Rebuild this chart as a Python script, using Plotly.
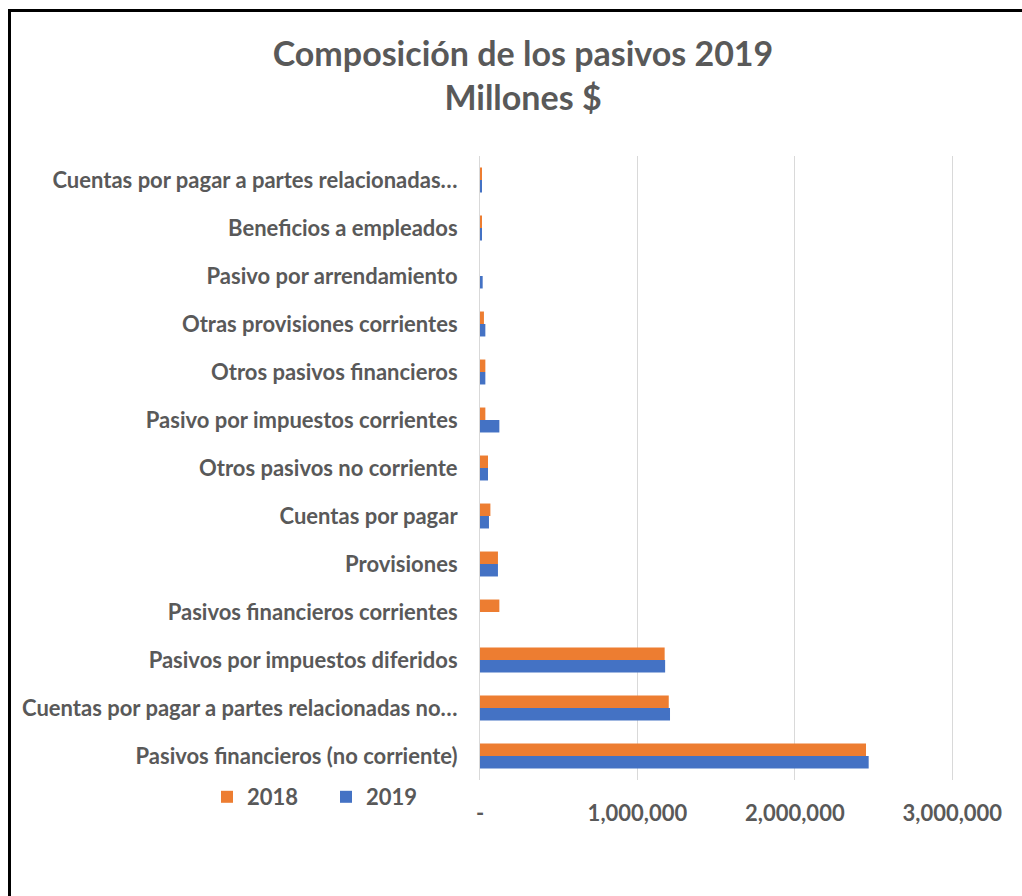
import plotly.graph_objects as go

# Liability items, listed top to bottom as they appear on the chart
categorias = [
    "Cuentas por pagar a partes relacionadas…",
    "Beneficios a empleados",
    "Pasivo por arrendamiento",
    "Otras provisiones corrientes",
    "Otros pasivos financieros",
    "Pasivo por impuestos corrientes",
    "Otros pasivos no corriente",
    "Cuentas por pagar",
    "Provisiones",
    "Pasivos financieros corrientes",
    "Pasivos por impuestos diferidos",
    "Cuentas por pagar a partes relacionadas no…",
    "Pasivos financieros (no corriente)",
]

# Values in millions of $
valores_2018 = [8000, 8000, 0, 25000, 34000, 34000, 51000, 66000, 114000, 123000,
                1173000, 1199000, 2452000]
valores_2019 = [8000, 8000, 17000, 34000, 34000, 123000, 51000, 57000, 114000, 0,
                1176000, 1207000, 2469000]

tick_vals = [0, 1000000, 2000000, 3000000]
tick_text = ["-", "1,000,000", "2,000,000", "3,000,000"]

GRIS = "#595959"
FUENTE = "Lato"
negrita = dict(family=FUENTE, size=22, color=GRIS, weight="bold")

fig = go.Figure()
fig.add_trace(go.Bar(name="2018", y=categorias, x=valores_2018, orientation="h",
                     marker=dict(color="#ED7D31", line=dict(width=0))))
fig.add_trace(go.Bar(name="2019", y=categorias, x=valores_2019, orientation="h",
                     marker=dict(color="#4472C4", line=dict(width=0))))

W, H = 1022, 896
ML, MR, MT, MB = 480, 65, 156, 116

fig.update_layout(
    width=W, height=H,
    margin=dict(l=ML, r=MR, t=MT, b=MB, autoexpand=False),
    paper_bgcolor="white", plot_bgcolor="white",
    barmode="group", bargap=0.48, bargroupgap=0,
    font=negrita,
    title=dict(
        text="<b>Composición de los pasivos 2019<br>Millones $</b>",
        x=523 / W, xanchor="center",
        y=1 - 66 / H, yanchor="top",
        font=dict(family=FUENTE, size=34, color=GRIS, weight="bold"),
    ),
    xaxis=dict(
        range=[0, 3030000], tickvals=tick_vals, ticktext=tick_text,
        showgrid=True, gridcolor="#D9D9D9", gridwidth=1,
        zeroline=False, showline=False, ticks="",
        tickfont=negrita,
        ticklabelstandoff=18,
    ),
    yaxis=dict(
        autorange="reversed", showgrid=False, zeroline=False,
        showline=True, linecolor="#D9D9D9", linewidth=1, ticks="",
        tickfont=negrita,
        ticklabelstandoff=17,
    ),
    legend=dict(
        orientation="h", x=(207 - ML) / (W - ML - MR), xanchor="left",
        y=-(797 - (H - MB)) / (H - MT - MB), yanchor="middle",
        font=negrita,
        itemwidth=30, entrywidth=74, bgcolor="rgba(0,0,0,0)",
    ),
    showlegend=True,
)

# Frame lines along the left and top edges
pw = W - ML - MR
ph = H - MT - MB
def px_x(px):
    return (px - ML) / pw
def px_y(py):
    return (H - MB - py) / ph

fig.add_shape(type="line", xref="paper", yref="paper",
              x0=px_x(9.5), x1=px_x(9.5), y0=px_y(9), y1=px_y(H + 5),
              line=dict(color="black", width=3))
fig.add_shape(type="line", xref="paper", yref="paper",
              x0=px_x(8), x1=px_x(W + 5), y0=px_y(10.5), y1=px_y(10.5),
              line=dict(color="black", width=3))

fig.write_html("out.html")
